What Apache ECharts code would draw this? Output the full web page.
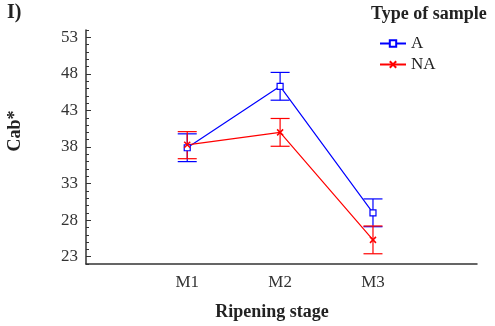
<!DOCTYPE html>
<html>
<head>
<meta charset="utf-8">
<script src="https://cdn.jsdelivr.net/npm/echarts@6/dist/echarts.min.js"></script>
<style>
  html, body { margin: 0; padding: 0; background: #fff; }
  #chart { width: 495px; height: 326px; }
</style>
</head>
<body>
<div id="chart"></div>
<script>
// ripening stages (x position 1..3)
const stages = ['M1', 'M2', 'M3'];
const yTicks = [23, 28, 33, 38, 43, 48, 53];

// Type of sample A
const aMean = [37.9, 46.3, 29.0];
const aLow = [36.0, 44.4, 27.1];
const aHigh = [39.8, 48.2, 30.9];

// Type of sample NA
const naMean = [38.3, 40.0, 25.3];
const naLow = [36.4, 38.1, 23.4];
const naHigh = [40.1, 41.9, 27.2];

const SERIF = '"Liberation Serif", "DejaVu Serif", serif';

function pts(vals) {
    return vals.map((v, i) => [i + 1, v]);
}
function bars(lo, hi) {
    return lo.map((v, i) => [i + 1, v, hi[i]]);
}

function errorSeries(name, lo, hi, color) {
    return {
        name: name + ' err',
        type: 'custom',
        data: bars(lo, hi),
        z: 3,
        renderItem: function (params, api) {
            const x = api.value(0);
            const p1 = api.coord([x, api.value(1)]);
            const p2 = api.coord([x, api.value(2)]);
            const w = 9.5;
            const st = { stroke: color, lineWidth: 1.2 };
            return {
                type: 'group',
                children: [
                    { type: 'line', shape: { x1: p1[0], y1: p1[1], x2: p2[0], y2: p2[1] }, style: st },
                    { type: 'line', shape: { x1: p1[0] - w, y1: p1[1], x2: p1[0] + w, y2: p1[1] }, style: st },
                    { type: 'line', shape: { x1: p2[0] - w, y1: p2[1], x2: p2[0] + w, y2: p2[1] }, style: st }
                ]
            };
        }
    };
}

const myChart = echarts.init(document.getElementById('chart'));

const gridBox = { left: 86, right: 18, top: 30, bottom: 62 };

const option = {
    animation: false,
    textStyle: { fontFamily: SERIF },
    // second grid only carries the minor y ticks
    grid: [Object.assign({}, gridBox), Object.assign({}, gridBox)],
    graphic: [
        { type: 'text', left: 7, top: 3, style: { text: 'I)', font: 'bold 20px ' + SERIF, fill: '#222' } },
        { type: 'text', left: 371, top: 5, style: { text: 'Type of sample', font: 'bold 18px ' + SERIF, fill: '#222' } },
        {
            type: 'text', x: 15, y: 131, rotation: Math.PI / 2,
            style: { text: 'Cab*', font: 'bold 18px ' + SERIF, fill: '#222', align: 'center', verticalAlign: 'middle' }
        },
        {
            type: 'text', x: 272, y: 312,
            style: { text: 'Ripening stage', font: 'bold 18px ' + SERIF, fill: '#222', align: 'center', verticalAlign: 'middle' }
        }
    ],
    legend: {
        data: ['A', 'NA'],
        orient: 'vertical',
        left: 374,
        top: 30,
        itemGap: 4,
        itemWidth: 26,
        itemHeight: 8,
        textStyle: { fontFamily: SERIF, fontSize: 17, color: '#222' }
    },
    xAxis: [
        {
            type: 'value',
            gridIndex: 0,
            min: -0.09,
            max: 4.12,
            splitLine: { show: false },
            axisLine: { onZero: false, lineStyle: { color: '#333', width: 1.5 } },
            axisTick: { show: false },
            axisLabel: {
                customValues: [1, 2, 3],
                formatter: v => stages[Math.round(v) - 1] || '',
                fontFamily: SERIF,
                fontSize: 17,
                color: '#333',
                margin: 10
            }
        },
        {
            type: 'value',
            gridIndex: 1,
            min: 0,
            max: 1,
            show: false
        }
    ],
    yAxis: [
        {
            type: 'value',
            gridIndex: 0,
            min: 22,
            max: 54,
            splitLine: { show: false },
            axisLine: { show: true, onZero: false, lineStyle: { color: '#333', width: 1.5 } },
            axisTick: { show: true, inside: true, length: 5, customValues: yTicks, lineStyle: { color: '#333' } },
            axisLabel: { customValues: yTicks, fontFamily: SERIF, fontSize: 17, color: '#333', margin: 8 }
        },
        {
            type: 'value',
            gridIndex: 1,
            min: 22,
            max: 54,
            interval: 1,
            splitLine: { show: false },
            axisLine: { show: false, onZero: false },
            axisTick: { show: true, inside: true, length: 3, lineStyle: { color: '#333' } },
            axisLabel: { show: false }
        }
    ],
    series: [
        {
            name: 'A',
            type: 'line',
            data: pts(aMean),
            symbol: 'rect',
            symbolSize: 6,
            color: '#0000ff',
            lineStyle: { width: 1.2, color: '#0000ff' },
            itemStyle: { color: '#ffffff', borderColor: '#0000ff', borderWidth: 1.2 },
            z: 4
        },
        {
            name: 'NA',
            type: 'line',
            data: pts(naMean),
            symbol: 'path://M0,0L10,10M10,0L0,10',
            symbolSize: 6,
            color: '#ff0000',
            lineStyle: { width: 1.2, color: '#ff0000' },
            itemStyle: { color: 'none', borderColor: '#ff0000', borderWidth: 1.5 },
            z: 4
        },
        errorSeries('A', aLow, aHigh, '#0000ff'),
        errorSeries('NA', naLow, naHigh, '#ff0000')
    ]
};

myChart.setOption(option);
</script>
</body>
</html>
